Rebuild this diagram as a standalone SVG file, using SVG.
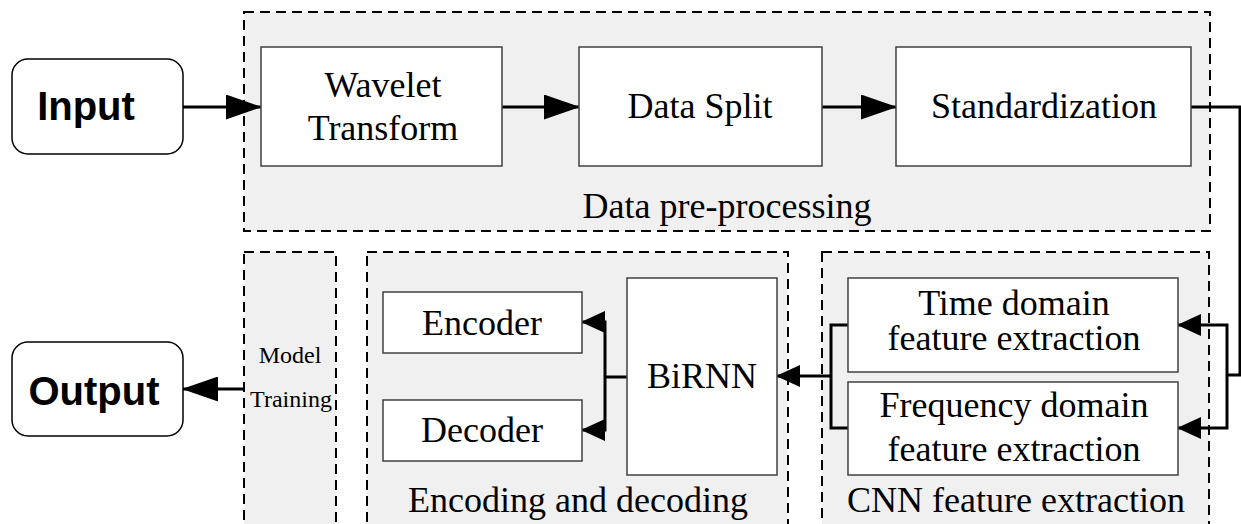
<svg xmlns="http://www.w3.org/2000/svg" width="1241" height="524" viewBox="0 0 1241 524">
<style>
.grp{fill:#f0f0f0;stroke:#000;stroke-width:2;stroke-dasharray:10,6}
.box{fill:#fff;stroke:#404040;stroke-width:1.5}
.term{fill:#fff;stroke:#000;stroke-width:1.5}
.t{font-family:"Liberation Serif","Times New Roman",serif;font-size:36px;fill:#000;text-anchor:middle}
.s{font-family:"Liberation Serif","Times New Roman",serif;font-size:24px;fill:#000;text-anchor:middle}
.b{font-family:"Liberation Sans",Arial,sans-serif;font-size:40px;font-weight:bold;fill:#000;text-anchor:middle}
.c{fill:none;stroke:#000;stroke-width:3}
</style>
<defs>
<marker id="big" markerUnits="userSpaceOnUse" markerWidth="36" markerHeight="25" refX="35" refY="12.5" orient="auto"><path d="M0,0 L36,12.5 L0,25 Z" fill="#000"/></marker>
<marker id="small" markerUnits="userSpaceOnUse" markerWidth="24" markerHeight="22" refX="23" refY="11" orient="auto"><path d="M0,0 L24,11 L0,22 Z" fill="#000"/></marker>
</defs>
<rect width="1241" height="524" fill="#fff"/>
<g id="group-preprocessing">
<rect class="grp" x="244" y="12" width="966" height="219"/>
<text class="t" x="727" y="218">Data pre-processing</text>
</g>
<g id="group-model-training">
<rect class="grp" x="244" y="252" width="92" height="290"/>
<text class="s" x="290" y="363">Model</text>
<text class="s" x="291" y="407">Training</text>
</g>
<g id="group-encoding">
<rect class="grp" x="367" y="252" width="421" height="290"/>
<text class="t" x="578" y="512">Encoding and decoding</text>
</g>
<g id="group-cnn">
<rect class="grp" x="822" y="252" width="387" height="290"/>
<text class="t" x="1016" y="512">CNN feature extraction</text>
</g>
<g id="connectors">
<path class="c" d="M183,107 H261" marker-end="url(#big)"/>
<path class="c" d="M501,107 H579" marker-end="url(#big)"/>
<path class="c" d="M822,107 H896" marker-end="url(#big)"/>
<path class="c" d="M1191,107 H1240 V375 H1227"/>
<path class="c" d="M1227,375 V325 H1178" marker-end="url(#small)"/>
<path class="c" d="M1227,375 V428 H1178" marker-end="url(#small)"/>
<path class="c" d="M848,325 H831 V428 H848"/>
<path class="c" d="M831,376 H777" marker-end="url(#small)"/>
<path class="c" d="M627,377 H605"/>
<path class="c" d="M605,377 V322 H582" marker-end="url(#small)"/>
<path class="c" d="M605,377 V430 H582" marker-end="url(#small)"/>
<path class="c" d="M244,389 H183" marker-end="url(#big)"/>
</g>
<g id="node-input">
<rect class="term" x="12" y="59" width="171" height="95" rx="16"/>
<text class="b" x="86" y="120">Input</text>
</g>
<g id="node-output">
<rect class="term" x="12" y="342" width="171" height="94" rx="16"/>
<text class="b" x="94" y="405">Output</text>
</g>
<g id="node-wavelet">
<rect class="box" x="261" y="47" width="241" height="119"/>
<text class="t" x="383" y="97">Wavelet</text>
<text class="t" x="383" y="140">Transform</text>
</g>
<g id="node-datasplit">
<rect class="box" x="579" y="47" width="243" height="119"/>
<text class="t" x="700" y="118">Data Split</text>
</g>
<g id="node-standardization">
<rect class="box" x="896" y="47" width="295" height="119"/>
<text class="t" x="1044" y="118">Standardization</text>
</g>
<g id="node-time">
<rect class="box" x="848" y="278" width="330" height="94"/>
<text class="t" x="1014" y="315">Time domain</text>
<text class="t" x="1014" y="350">feature extraction</text>
</g>
<g id="node-frequency">
<rect class="box" x="848" y="382" width="330" height="93"/>
<text class="t" x="1014" y="417">Frequency domain</text>
<text class="t" x="1014" y="461">feature extraction</text>
</g>
<g id="node-birnn">
<rect class="box" x="627" y="278" width="150" height="197"/>
<text class="t" x="702" y="388">BiRNN</text>
</g>
<g id="node-encoder">
<rect class="box" x="383" y="292" width="199" height="61"/>
<text class="t" x="482" y="335">Encoder</text>
</g>
<g id="node-decoder">
<rect class="box" x="383" y="400" width="199" height="61"/>
<text class="t" x="482" y="442">Decoder</text>
</g>
</svg>
